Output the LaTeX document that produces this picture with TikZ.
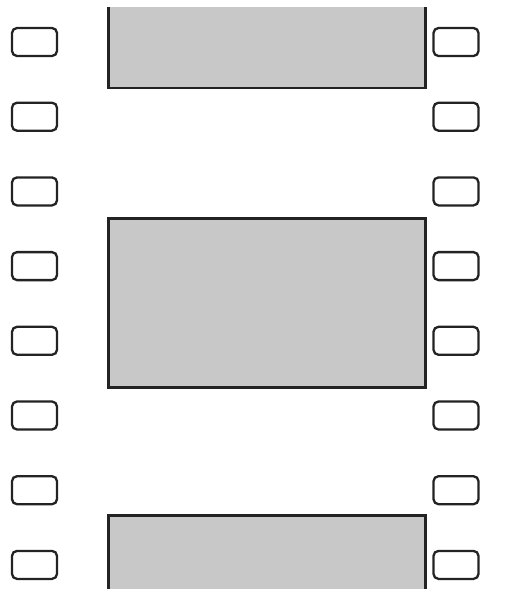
\documentclass[tikz,border=0pt]{standalone}
\usetikzlibrary{positioning}
\definecolor{framec}{RGB}{200,200,200}
\definecolor{edgec}{RGB}{35,35,35}
\tikzset{
  hole/.style={draw=edgec,fill=white,rounded corners=5pt,minimum width=45pt,minimum height=28pt,inner sep=0pt,line width=2.3pt},
  frame/.style={draw=edgec,fill=framec,minimum width=317pt,minimum height=169pt,inner sep=0pt,line width=2.3pt},
}
\begin{document}
\begin{tikzpicture}[x=1pt,y=-1pt]
\useasboundingbox (0,0) rectangle (505,589);
\clip (0,7) rectangle (505,589);
% sprocket holes, both edges
\foreach \i in {0,...,7}{
  \node[hole] (hl\i) at (34.5,42+74.7*\i) {};
  \node[hole] (hr\i) at (456,42+74.7*\i) {};
}
% film frames
\node[frame] (f1) at (267,3.5) {};
\node[frame] (f2) at (267,303) {};
\node[frame] (f3) at (267,600) {};
\end{tikzpicture}
\end{document}
